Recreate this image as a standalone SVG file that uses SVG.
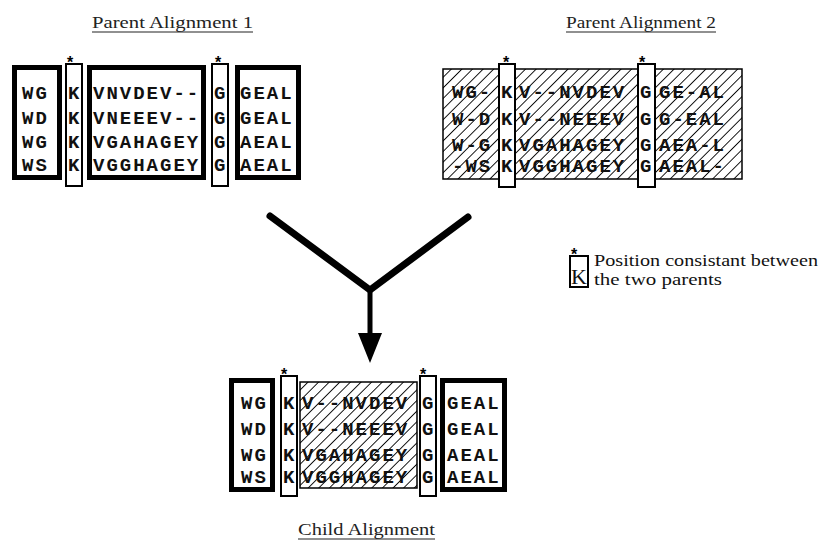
<svg xmlns="http://www.w3.org/2000/svg" width="824" height="543" viewBox="0 0 824 543">
<style>
.bg{fill:#fff}
.thick{fill:#fff;stroke:#000;stroke-width:5}
.thin{fill:#fff;stroke:#000;stroke-width:2}
.hatch{fill:url(#hatch);stroke:#000;stroke-width:1.5}
.seq{font-family:"Liberation Mono","Courier New",monospace;font-weight:bold;font-size:19px;letter-spacing:2px;fill:#111}
.star{font-family:"Liberation Sans",sans-serif;font-weight:bold;font-size:16px;fill:#000;text-anchor:middle}
.title{font-family:"Liberation Serif","Times New Roman",serif;font-size:17px;fill:#222}
.ul{stroke:#222;stroke-width:1.2}
.legend{font-family:"Liberation Serif","Times New Roman",serif;font-size:17px;fill:#111}
.conn{fill:none;stroke:#000;stroke-linejoin:miter;stroke-linecap:round}
</style>
<defs>
<pattern id="hatch" patternUnits="userSpaceOnUse" width="7.5" height="7.5" patternTransform="rotate(45)">
<rect width="7.5" height="7.5" fill="#fff"/>
<line x1="0" y1="0" x2="0" y2="7.5" stroke="#000" stroke-width="1.8"/>
</pattern>
</defs>
<rect class="bg" x="0" y="0" width="824" height="543"/>

<g id="parent1">
<text class="title" x="92" y="28" textLength="161" lengthAdjust="spacingAndGlyphs">Parent Alignment 1</text>
<line class="ul" x1="92" y1="32" x2="253" y2="32"/>
<rect class="thick" x="14.5" y="67.5" width="45" height="110"/>
<rect class="thin" x="66" y="64" width="16" height="122"/>
<rect class="thick" x="89.5" y="67.5" width="114" height="110"/>
<rect class="thin" x="212" y="64" width="16" height="122"/>
<rect class="thick" x="237.5" y="67.5" width="61" height="110"/>
<text class="star" x="70" y="68">*</text>
<text class="star" x="218" y="68">*</text>
<text class="seq" x="22" y="99">WG</text>
<text class="seq" x="22" y="124">WD</text>
<text class="seq" x="22" y="148">WG</text>
<text class="seq" x="22" y="171">WS</text>
<text class="seq" x="68" y="99">K</text>
<text class="seq" x="68" y="124">K</text>
<text class="seq" x="68" y="148">K</text>
<text class="seq" x="68" y="171">K</text>
<text class="seq" x="93" y="99">VNVDEV--</text>
<text class="seq" x="93" y="124">VNEEEV--</text>
<text class="seq" x="93" y="148">VGAHAGEY</text>
<text class="seq" x="93" y="171">VGGHAGEY</text>
<text class="seq" x="214" y="99">G</text>
<text class="seq" x="214" y="124">G</text>
<text class="seq" x="214" y="148">G</text>
<text class="seq" x="214" y="171">G</text>
<text class="seq" x="240" y="99">GEAL</text>
<text class="seq" x="240" y="124">GEAL</text>
<text class="seq" x="240" y="148">AEAL</text>
<text class="seq" x="240" y="171">AEAL</text>
</g>

<g id="parent2">
<text class="title" x="566" y="28" textLength="150" lengthAdjust="spacingAndGlyphs">Parent Alignment 2</text>
<line class="ul" x1="566" y1="32" x2="716" y2="32"/>
<rect class="hatch" x="443" y="69" width="299" height="110"/>
<rect class="thin" x="499" y="64" width="16" height="123"/>
<rect class="thin" x="638" y="64" width="17" height="123"/>
<text class="star" x="506" y="68">*</text>
<text class="star" x="642" y="68">*</text>
<text class="seq" x="452" y="98">WG-</text>
<text class="seq" x="452" y="125">W-D</text>
<text class="seq" x="452" y="151">W-G</text>
<text class="seq" x="452" y="172">-WS</text>
<text class="seq" x="501" y="98">K</text>
<text class="seq" x="501" y="125">K</text>
<text class="seq" x="501" y="151">K</text>
<text class="seq" x="501" y="172">K</text>
<text class="seq" x="519" y="98">V--NVDEV</text>
<text class="seq" x="519" y="125">V--NEEEV</text>
<text class="seq" x="519" y="151">VGAHAGEY</text>
<text class="seq" x="519" y="172">VGGHAGEY</text>
<text class="seq" x="640" y="98">G</text>
<text class="seq" x="640" y="125">G</text>
<text class="seq" x="640" y="151">G</text>
<text class="seq" x="640" y="172">G</text>
<text class="seq" x="659" y="98">GE-AL</text>
<text class="seq" x="659" y="125">G-EAL</text>
<text class="seq" x="659" y="151">AEA-L</text>
<text class="seq" x="659" y="172">AEAL-</text>
</g>

<g id="legend">
<rect class="thin" x="570" y="256" width="18" height="31"/>
<text class="star" x="574" y="260">*</text>
<text x="571" y="284" font-family="Liberation Serif, serif" font-size="22" fill="#111">K</text>
<text class="legend" x="594" y="266" textLength="224" lengthAdjust="spacingAndGlyphs">Position consistant between</text>
<text class="legend" x="594" y="285" textLength="128" lengthAdjust="spacingAndGlyphs">the two parents</text>
</g>

<g id="connectors">
<path class="conn" d="M270,216 L370,290 L468,217" stroke-width="7"/>
<line class="conn" x1="370" y1="290" x2="370" y2="336" stroke-width="5"/>
<polygon points="358,333 382,333 370,363" fill="#000"/>
</g>

<g id="child">
<rect class="thick" x="231.5" y="380.5" width="41" height="109"/>
<rect class="thin" x="281" y="376" width="16" height="120"/>
<rect class="hatch" x="300" y="382" width="117" height="106"/>
<rect class="thin" x="420" y="376" width="16" height="120"/>
<rect class="thick" x="442.5" y="380.5" width="62" height="109"/>
<text class="star" x="284" y="380">*</text>
<text class="star" x="423" y="380">*</text>
<text class="seq" x="241" y="409">WG</text>
<text class="seq" x="241" y="435">WD</text>
<text class="seq" x="241" y="461">WG</text>
<text class="seq" x="241" y="483">WS</text>
<text class="seq" x="283" y="409">K</text>
<text class="seq" x="283" y="435">K</text>
<text class="seq" x="283" y="461">K</text>
<text class="seq" x="283" y="483">K</text>
<text class="seq" x="302" y="409">V--NVDEV</text>
<text class="seq" x="302" y="435">V--NEEEV</text>
<text class="seq" x="302" y="461">VGAHAGEY</text>
<text class="seq" x="302" y="483">VGGHAGEY</text>
<text class="seq" x="422" y="409">G</text>
<text class="seq" x="422" y="435">G</text>
<text class="seq" x="422" y="461">G</text>
<text class="seq" x="422" y="483">G</text>
<text class="seq" x="447" y="409">GEAL</text>
<text class="seq" x="447" y="435">GEAL</text>
<text class="seq" x="447" y="461">AEAL</text>
<text class="seq" x="447" y="483">AEAL</text>
<text class="title" x="298" y="535" textLength="137" lengthAdjust="spacingAndGlyphs">Child Alignment</text>
<line class="ul" x1="298" y1="539" x2="435" y2="539"/>
</g>
</svg>
